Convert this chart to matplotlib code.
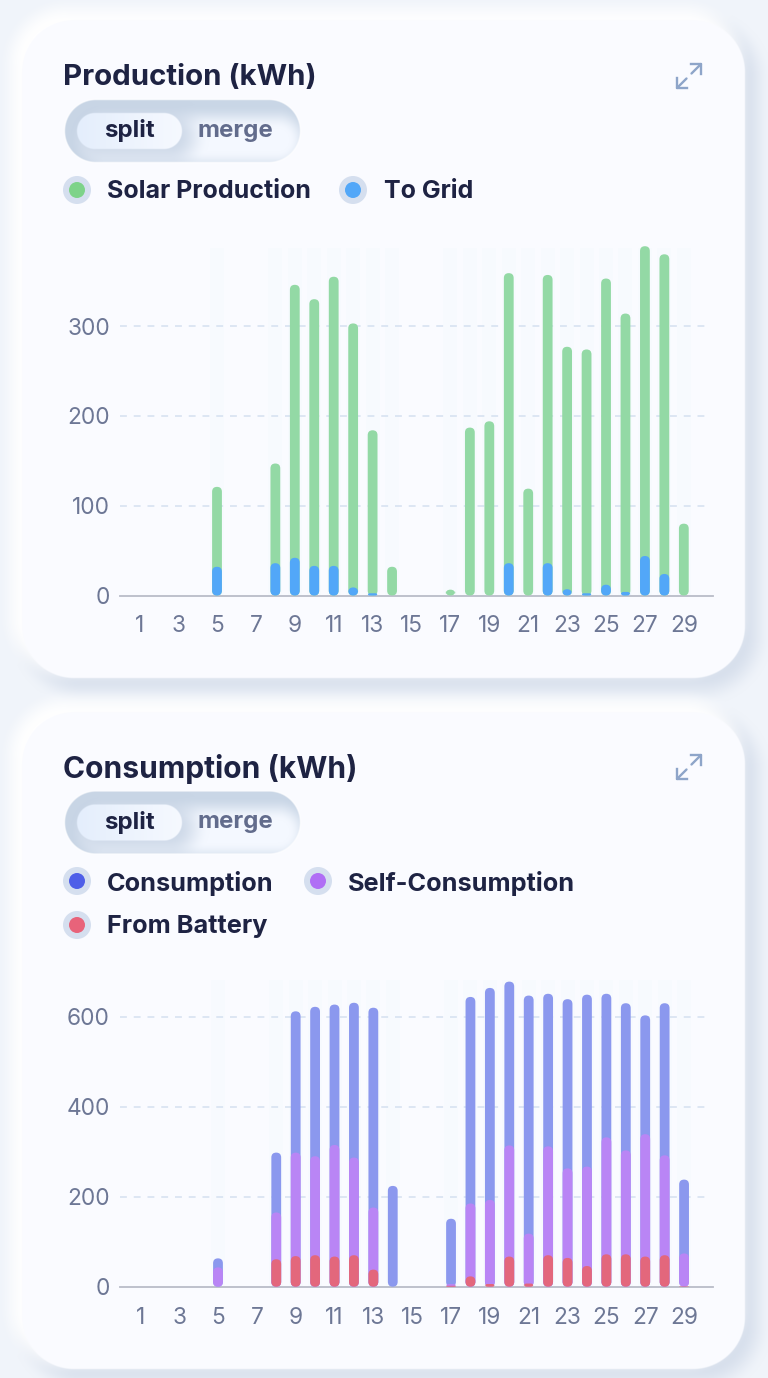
import numpy as np
import matplotlib
matplotlib.use("Agg")
import matplotlib.pyplot as plt
from matplotlib.patches import FancyBboxPatch, Circle

W, H = 768, 1378
TITLE_FONT = ["Inter", "DejaVu Sans"]
TICK_FONT = ["Inter", "DejaVu Sans"]

# ---------- data ----------
days = list(range(1, 30))
tick_days = list(range(1, 30, 2))
solar = [0,0,0,0,121,0,0,147,346,330,355,303,184,32,0,0,6.5,187,194,359,119,357,277,274,353,314,389,380,80]
to_grid = [0,0,0,0,32,0,0,36,42,33,33,9,2.5,0,0,0,0,0,0,36,0,36,7,2.5,12,4,44,24,0]
consumption = [0,0,0,0,63,0,0,298,612,622,627,631,620,224,0,0,151,644,664,678,647,651,639,649,651,630,603,630,238]
self_cons = [0,0,0,0,43,0,0,165,298,290,315,287,176,0,0,0,6,185,193,314,118,312,263,267,332,303,339,292,74]
from_batt = [0,0,0,0,0,0,0,61,68,70,67,70,38,0,0,0,2,23,6,67,7,70,64,46,72,72,67,70,1]
prod_ticks = [0, 100, 200, 300]
cons_ticks = [0, 200, 400, 600]

C_PAGE = "#f0f4fa"; C_CARD = "#fafbff"
C_TXT = "#1e2343"; C_TICK = "#6d7795"; C_GRID = "#d5e0f0"; C_BASE = "#b9bcc8"


def rgb(h):
    return np.array(matplotlib.colors.to_rgb(h))


def sdf(X, Y, x0, y0, x1, y1, r):
    cx, cy = (x0 + x1) / 2, (y0 + y1) / 2
    qx = np.abs(X - cx) - (x1 - x0) / 2 + r
    qy = np.abs(Y - cy) - (y1 - y0) / 2 + r
    return np.hypot(np.maximum(qx, 0), np.maximum(qy, 0)) + np.minimum(np.maximum(qx, qy), 0) - r


def smooth(a, b, v):
    t = np.clip((v - a) / (b - a), 0, 1)
    return t * t * (3 - 2 * t)


def blend(img, col, a):
    return img * (1 - a[..., None]) + rgb(col) * a[..., None]


Y, X = np.mgrid[0:H, 0:W] + 0.5
img = np.ones((H, W, 3)) * rgb(C_PAGE)
cards = [(22, 20, 745, 678), (22, 712, 745, 1369)]
for (x0, y0, x1, y1) in cards:
    d = sdf(X - 8, Y - 8, x0, y0, x1, y1, 52)
    img = blend(img, "#d3dcea", 0.85 * (1 - smooth(-10, 20, d)))
    d = sdf(X + 8, Y + 8, x0, y0, x1, y1, 52)
    img = blend(img, "#ffffff", 1.0 * (1 - smooth(-10, 16, d)))
for (x0, y0, x1, y1) in cards:
    d = sdf(X, Y, x0, y0, x1, y1, 52)
    img = blend(img, C_CARD, 1 - smooth(-1, 1, d))

for dy in (0, 691.5):
    p = (65, 100 + dy, 300, 162 + dy)
    d = sdf(X, Y, *p, 31)
    base = np.ones((H, W, 3)) * rgb("#f4f8ff")
    ds = sdf(X - 9, Y - 9, *p, 31)
    base = blend(base, "#c9d6e6", smooth(-20, 4, ds))
    b = (77, 113 + dy, 182, 149 + dy)
    ds = sdf(X - 6, Y - 5, *b, 18)
    base = blend(base, "#c3d0e2", 0.75 * (1 - smooth(-10, 22, ds)))
    img = blend(img, "#ffffff", 0.8 * (1 - smooth(-1, 3, d)))
    img = img * (smooth(-1, 1, d))[..., None] + base * (1 - smooth(-1, 1, d))[..., None]
    db = sdf(X, Y, *b, 18)
    grad = rgb("#e4eefc") + (rgb("#f6f9ff") - rgb("#e4eefc")) * np.clip((X - 77) / 105, 0, 1)[..., None]
    m = (1 - smooth(-1, 1, db))[..., None]
    img = img * (1 - m) + grad * m

fig = plt.figure(figsize=(W / 100, H / 100), dpi=100)
bg = fig.add_axes([0, 0, 1, 1])
bg.imshow(np.clip(img, 0, 1), extent=(0, W, H, 0), interpolation="nearest", aspect="auto")
bg.set_xlim(0, W); bg.set_ylim(H, 0); bg.axis("off")


def txt(x, y, s, size, color=C_TXT, weight="bold", ha="left"):
    bg.text(x, y, s, fontsize=size, color=color, fontweight=weight, ha=ha, va="center", family=TITLE_FONT)


def legend_dot(x, y, color):
    bg.add_patch(Circle((x, y), 14, color="#d5dfef", lw=0))
    bg.add_patch(Circle((x, y), 8, color=color, lw=0))


def expand_icon(dy):
    c = "#8ea5c9"; lw = 1.7
    x0, y0, x1, y1 = 677, 88 + dy, 701, 64 + dy
    bg.plot([x0, x0 + 9.5], [y0, y0 - 9.5], color=c, lw=lw, solid_capstyle="round")
    bg.plot([x1, x1 - 9.5], [y1, y1 + 9.5], color=c, lw=lw, solid_capstyle="round")
    bg.plot([x0, x0, x0 + 10], [y0 - 10, y0, y0], color=c, lw=lw)
    bg.plot([x1 - 10, x1, x1], [y1, y1, y1 + 10], color=c, lw=lw)


def chart(y0, ytop, xlim, ticks, ymax, series, label_y, grid_right):
    L, R = 120, 713
    ax = fig.add_axes([L / W, 1 - y0 / H, (R - L) / W, (y0 - ytop) / H])
    ax.set_xlim(*xlim); ax.set_ylim(0, ymax)
    ax.patch.set_alpha(0)
    for s in ax.spines.values():
        s.set_visible(False)
    ax.spines["bottom"].set_visible(True)
    ax.spines["bottom"].set_color(C_BASE); ax.spines["bottom"].set_linewidth(1.3)
    xpx = (R - L) / (xlim[1] - xlim[0]); ypx = (y0 - ytop) / ymax
    w_px = 9.8
    # faint column stripes behind days with data
    present = [d for d, v in zip(days, series[0][0]) if v > 0]
    ax.bar(present, [ymax] * len(present), width=14 / xpx, color="#eef7fb", alpha=0.22, lw=0, zorder=0)
    gxmax = (grid_right - L) / (R - L)
    for t in ticks[1:]:
        ax.axhline(t, xmax=gxmax, color=C_GRID, lw=1.1, dashes=(4.5, 4.5), zorder=1)
    for values, color in series:
        for d, v in zip(days, values):
            if v <= 0:
                continue
            h_px = v * ypx
            r_px = min(w_px / 2, h_px / 1.2)
            ax.add_patch(FancyBboxPatch(
                (d - w_px / 2 / xpx, 0), w_px / xpx, v,
                boxstyle=f"round,pad=0,rounding_size={r_px / xpx}",
                mutation_aspect=xpx / ypx, fc=color, ec="none", zorder=3, clip_on=False))
    ax.set_xticks(tick_days); ax.set_yticks(ticks)
    ax.tick_params(length=0)
    ax.set_xticklabels([])
    ax.set_yticklabels([])
    for t in ticks:
        ax.annotate(str(t), (0, t), xycoords=("axes fraction", "data"), xytext=(-10, 0), textcoords="offset pixels",
                    ha="right", va="center_baseline", fontsize=16.3, color=C_TICK, family=TICK_FONT, fontweight="normal")
    for t in tick_days:
        ax.annotate(str(t), (t, 0), xycoords=("data", "axes fraction"), xytext=(0, y0 - label_y), textcoords="offset pixels",
                    ha="center", va="center_baseline", fontsize=16.3, color=C_TICK, family=TICK_FONT, fontweight="normal")
    return ax


# ---------- production ----------
txt(63, 77.5, "Production (kWh)", 21.2)
txt(129.5, 131, "split", 17.3, ha="center")
txt(235, 131, "merge", 17.3, color="#626c8c", ha="center")
legend_dot(77, 190, "#7dd389"); txt(107, 192, "Solar Production", 18)
legend_dot(353, 190, "#52a7f8"); txt(384, 192, "To Grid", 18)
expand_icon(0)
chart(595.5, 248, (0.013, 30.5), prod_ticks, 387,
      [(solar, "#93d9a5"), (to_grid, "#52a7f8")], 624, 708)

# ---------- consumption ----------
txt(63, 768.5, "Consumption (kWh)", 21.6)
txt(129.5, 822, "split", 17.3, ha="center")
txt(235, 822, "merge", 17.3, color="#626c8c", ha="center")
legend_dot(77, 881, "#4f5fe8"); txt(107, 883, "Consumption", 18.2)
legend_dot(318, 881, "#b06ef5"); txt(348, 883, "Self-Consumption", 18.2)
legend_dot(77, 925, "#e8637a"); txt(107, 927, "From Battery", 18.2)
expand_icon(691)
chart(1286.7, 980, (-0.046, 30.49), cons_ticks, 681.6,
      [(consumption, "#8b98ee"), (self_cons, "#b985f5"), (from_batt, "#e3677c")], 1316, 706)

fig.savefig("out.png", dpi=100)
